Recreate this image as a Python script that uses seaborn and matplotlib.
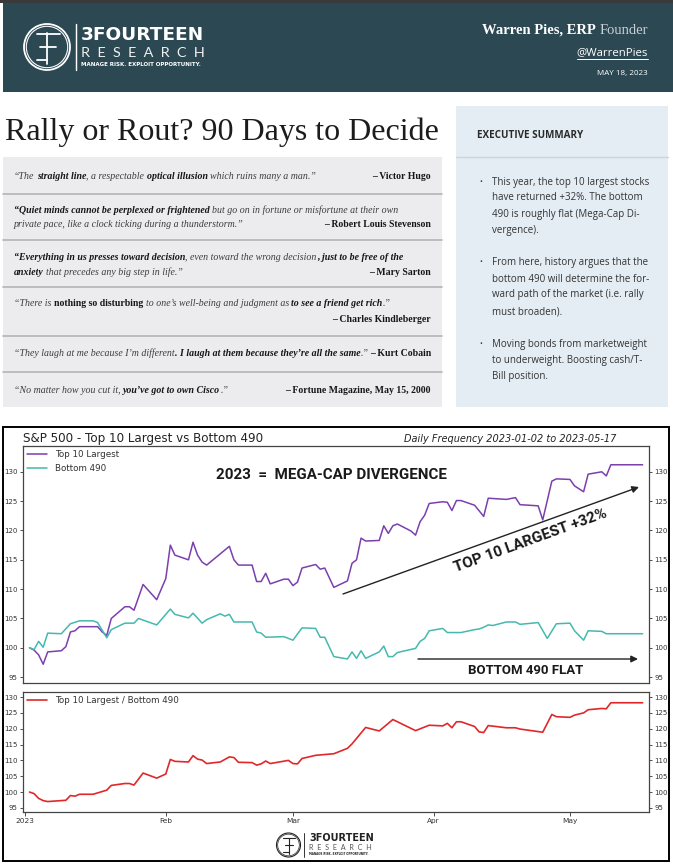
import pandas as pd
import matplotlib
matplotlib.use("Agg")
import matplotlib.pyplot as plt
from matplotlib.patches import Rectangle, Circle
from matplotlib.font_manager import FontProperties
import seaborn as sns

# ---------------- data ----------------
BASE_DATE = "2023-01-01"
TOP10_DAYS = [1, 2, 3, 4, 5, 8, 9, 10, 11, 12, 16, 17, 18, 19, 22, 23, 24, 26, 29, 31, 32, 33,
              36, 37, 38, 39, 40, 45, 46, 47, 50, 51, 52, 53, 54, 57, 58, 59, 60, 61, 64, 65,
              66, 68, 71, 72, 73, 74, 75, 78, 79, 80, 81, 82, 85, 86, 87, 88, 89, 92, 93, 94,
              95, 96, 99, 101, 102, 106, 108, 109, 113, 114, 116, 117, 120, 121, 123, 124, 127,
              128, 129, 136]
TOP10_VALS = [100, 99.6, 98.8, 97.2, 99.3, 99.5, 100.2, 102.7, 102.9, 103.6, 103.6, 102.7, 102.1,
              105, 107, 107, 106.4, 110.8, 108.2, 111.8, 117.5, 115.8, 115, 118, 115.8, 114.6,
              114.1, 117.3, 115, 114.1, 114.1, 111.3, 111.3, 112.7, 110.9, 111.7, 111.7, 110.6,
              111.2, 113.6, 114.2, 113.4, 113.6, 110.3, 111.4, 114.4, 115, 118.7, 118.2, 118.3,
              120.8, 119.5, 120.8, 121.1, 119.9, 119.2, 121.5, 122.6, 124.6, 124.9, 124.8, 123.4,
              125.1, 125.1, 124.3, 122.4, 125.5, 125.3, 125.6, 124.4, 124.2, 121.8, 128.4, 128.8,
              128.7, 127.6, 126.6, 129.6, 130, 129.3, 131.2, 131.2]
B490_DAYS = [1, 2, 3, 4, 5, 8, 10, 12, 15, 16, 18, 19, 22, 24, 25, 29, 32, 33, 36, 37, 39, 40,
             43, 44, 45, 46, 50, 51, 52, 53, 57, 59, 61, 64, 65, 66, 68, 71, 72, 73, 74, 75, 78,
             79, 80, 81, 82, 86, 87, 88, 89, 92, 93, 96, 99, 100, 101, 102, 103, 106, 108, 109,
             113, 115, 117, 120, 121, 123, 124, 127, 128, 136]
B490_VALS = [100, 99.7, 101.1, 100.1, 102.5, 102.4, 104.1, 104.6, 104.6, 104.3, 101.7, 103.1,
             104.2, 104.2, 105, 103.9, 106.6, 105.7, 105.1, 105.9, 104.2, 104.8, 105.8, 105.4,
             105.7, 104.4, 104.4, 102.7, 102.5, 101.8, 101.9, 101.3, 103.4, 103.3, 101.8, 101.8,
             98.5, 98.1, 99.3, 98.2, 99.5, 98.2, 99.3, 100.3, 98.5, 98.5, 99.2, 99.9, 101.1,
             101.6, 102.9, 103.3, 102.6, 102.6, 103.1, 103.2, 103.5, 103.9, 103.8, 104.4, 104.4,
             104, 104.3, 101.6, 104.1, 104.2, 102.9, 101.3, 102.9, 102.8, 102.4, 102.4]
RATIO_DAYS = [1, 2, 3, 4, 5, 9, 10, 11, 12, 15, 18, 19, 22, 23, 24, 26, 29, 31, 32, 33, 36, 37,
              38, 39, 40, 43, 45, 46, 47, 50, 51, 52, 53, 54, 58, 59, 60, 61, 64, 68, 71, 72, 75,
              78, 81, 86, 89, 92, 93, 94, 95, 96, 99, 100, 101, 102, 106, 108, 109, 114, 116,
              117, 120, 121, 123, 124, 127, 128, 129, 136]
RATIO_VALS = [100, 99.5, 98, 97.3, 97, 97.4, 98.9, 98.7, 99.3, 99.3, 100.6, 102.1, 102.7, 102.7,
              102.2, 106, 104.4, 105.7, 110.3, 109.7, 109.5, 111.5, 110.4, 110.1, 109, 109.5,
              111.1, 110.9, 109.4, 109.3, 108.5, 108.9, 109.8, 109, 110, 109, 108.9, 110.6,
              111.6, 112.1, 113.8, 115.2, 120.4, 119.3, 122.9, 119.4, 121.1, 120.9, 121.7, 120.3,
              122.2, 122.2, 120.7, 119, 118.8, 121, 120.3, 120.3, 119.9, 118.9, 124.5, 123.8,
              123.6, 124.3, 125, 126, 126.4, 126.3, 128.2, 128.2]
SERIES_LABELS = ["Top 10 Largest", "Bottom 490"]
RATIO_LABEL = "Top 10 Largest / Bottom 490"
MONTH_TICKS = ["2023-01-01", "2023-02-01", "2023-03-01", "2023-04-01", "2023-05-01"]
MONTH_LABELS = ["2023", "Feb", "Mar", "Apr", "May"]
Y_TICKS = [95, 100, 105, 110, 115, 120, 125, 130]

CHART_TITLE = "S&P 500 - Top 10 Largest vs Bottom 490"
CHART_SUB = "Daily Frequency 2023-01-02 to 2023-05-17"
PAGE_TITLE = "Rally or Rout? 90 Days to Decide"

QUOTES = [
    ([[("\u201cThe ", "i"), ("straight line", "bi"), (", a respectable ", "i"),
       ("optical illusion", "bi"), (" which ruins many a man.\u201d", "i")]],
     "\u2013 Victor Hugo"),
    ([[("\u201cQuiet minds cannot be perplexed or frightened", "bi"),
       (" but go on in fortune or misfortune at their own", "i")],
      [("private pace, like a clock ticking during a thunderstorm.\u201d", "i")]],
     "\u2013 Robert Louis Stevenson"),
    ([[("\u201cEverything in us presses toward decision", "bi"),
       (", even toward the wrong decision", "i"), (", just to be free of the", "bi")],
      [("anxiety", "bi"), (" that precedes any big step in life.\u201d", "i")]],
     "\u2013 Mary Sarton"),
    ([[("\u201cThere is ", "i"), ("nothing so disturbing", "b"),
       (" to one\u2019s well-being and judgment as ", "i"), ("to see a friend get rich", "bi"),
       (".\u201d", "i")]],
     "\u2013 Charles Kindleberger"),
    ([[("\u201cThey laugh at me because I\u2019m different", "i"),
       (". I laugh at them because they\u2019re all the same", "bi"), (".\u201d", "i")]],
     "\u2013 Kurt Cobain"),
    ([[("\u201cNo matter how you cut it, ", "i"), ("you\u2019ve got to own Cisco", "bi"),
       (".\u201d", "i")]],
     "\u2013 Fortune Magazine, May 15, 2000"),
]
QUOTE_BASELINES = [[179], [213, 227], [260, 275], [306], [356], [393]]
AUTHOR_BASELINES = [179, 227, 275, 322, 356, 393]

BULLETS = [
    ["This year, the top 10 largest stocks", "have returned +32%. The bottom",
     "490 is roughly flat (Mega-Cap Di-", "vergence)."],
    ["From here, history argues that the", "bottom 490 will determine the for-",
     "ward path of the market (i.e. rally", "must broaden)."],
    ["Moving bonds from marketweight", "to underweight. Boosting cash/T-", "Bill position."],
]
BULLET_Y = [[182, 198, 214, 230], [263, 279, 295, 312], [344, 360, 377]]

# ---------------- styling ----------------
sns.set_theme(style="ticks")
plt.rcParams["font.family"] = ["DejaVu Sans"]

PURPLE = "#7b3fae"
TEAL = "#45b9ae"
RED = "#e0282b"
HEADER = "#2b4853"

W, H = 673, 867
fig = plt.figure(figsize=(W / 100, H / 100), dpi=100)
renderer = fig.canvas.get_renderer()


def px_axes(z):
    a = fig.add_axes([0, 0, 1, 1], zorder=z)
    a.set_xlim(0, W)
    a.set_ylim(H, 0)
    a.axis("off")
    return a


deco = px_axes(-1)
ov = px_axes(10)

# header band
deco.add_patch(Rectangle((0, 0), W, 3, color="#3a3a3a", lw=0))
deco.add_patch(Rectangle((3, 3), W - 3, 89, color=HEADER, lw=0))


def logo(ax, cx, cy, r, col, sub_col, lw, text_x, sizes, ys):
    ax.add_patch(Circle((cx, cy), r, fill=False, ec=col, lw=lw))
    ax.add_patch(Circle((cx, cy), r * 0.9, fill=False, ec=col, lw=lw * 0.6))
    ax.plot([cx, cx], [cy - 0.62 * r, cy + 0.75 * r], color=col, lw=lw)
    ax.plot([cx - 0.45 * r, cx + 0.55 * r], [cy - 0.55 * r, cy - 0.55 * r], color=col, lw=lw)
    ax.plot([cx - 0.3 * r, cx + 0.4 * r], [cy, cy], color=col, lw=lw)
    ax.plot([cx - 0.45 * r, cx], [cy + 0.55 * r, cy + 0.55 * r], color=col, lw=lw)
    ax.plot([text_x - 5, text_x - 5], [cy - r, cy + r], color=col, lw=lw * 0.8)
    ax.text(text_x, ys[0], "3FOURTEEN", color=col, fontsize=sizes[0], fontweight="bold",
            va="center", ha="left", family="DejaVu Sans")
    ax.text(text_x, ys[1], "R  E  S  E  A  R  C  H", color=sub_col, fontsize=sizes[1],
            va="center", ha="left", family="Lato")
    ax.text(text_x, ys[2], "MANAGE RISK. EXPLOIT OPPORTUNITY.", color=col, fontsize=sizes[2],
            va="center", ha="left", fontweight="bold", family="DejaVu Sans")


logo(deco, 47, 47, 23, "white", "#f0f0f0", 1.3, 81, (13.3, 10.4, 3.95), (35, 53, 64))

# header right
t_f = deco.text(648, 34, "Founder", color="#c9d1d5", fontsize=10.5, ha="right", va="baseline",
                family="Liberation Serif")
deco.annotate("Warren Pies, ERP", xy=(0, 0), xycoords=t_f, xytext=(-2.6, 0),
              textcoords="offset points", ha="right", va="bottom", color="white",
              fontsize=10.5, fontweight="bold", family="Liberation Serif")
t_h = deco.text(648, 53, "@WarrenPies", color="white", fontsize=8.2, ha="right", va="center",
                family="Open Sans")
bb = t_h.get_window_extent(renderer)
deco.plot([bb.x0, bb.x1], [59, 59], color="white", lw=0.7)
deco.text(648, 73, "MAY 18, 2023", color="white", fontsize=5.8, ha="right", va="center",
          family="Open Sans")

# page title
deco.text(5, 140, PAGE_TITLE, fontsize=23, family="Liberation Serif", color="#1c1c1c",
          va="baseline", ha="left")

# quotes box
deco.add_patch(Rectangle((3, 157), 439, 250, color="#ececee", lw=0))
for y in [194, 240, 287, 336, 372]:
    deco.plot([3, 442], [y, y], color="#b4b4b7", lw=1.2)

QSIZE = 7.15


def advance(s, fp):
    """Advance width of s in pixels, independent of glyph ink bearings."""
    w1 = renderer.get_text_width_height_descent("|" + s + "|", fp, ismath=False)[0]
    w0 = renderer.get_text_width_height_descent("||", fp, ismath=False)[0]
    return w1 - w0


def rich_line(ax, x, y, segs, size):
    cur = x
    for txt, st in segs:
        style = "italic" if "i" in st else "normal"
        weight = "bold" if "b" in st else "normal"
        fp = FontProperties(family="Liberation Serif", style=style, weight=weight, size=size)
        body = txt.strip(" ")
        n_lead = len(txt) - len(txt.lstrip(" "))
        n_trail = len(txt) - len(txt.rstrip(" "))
        sp = advance(" ", fp)
        cur += n_lead * sp
        ax.text(cur, y, body, va="baseline", ha="left", fontproperties=fp,
                color="#161616" if "b" in st else "#3d3d3d")
        cur += advance(body, fp) + n_trail * sp


for (lines, author), ys, ay in zip(QUOTES, QUOTE_BASELINES, AUTHOR_BASELINES):
    for segs, y in zip(lines, ys):
        rich_line(deco, 14, y, segs, QSIZE)
    deco.text(431, ay, author, fontsize=7, fontweight="bold",
              family="Liberation Serif", color="#161616", ha="right", va="baseline")

# executive summary box
deco.add_patch(Rectangle((456, 106), 212, 301, color="#e4edf4", lw=0))
deco.plot([456, 668], [157, 157], color="#cbd5dd", lw=1.0)
deco.text(477, 135, "EXECUTIVE SUMMARY", fontsize=7.1, fontweight="bold", family="Open Sans",
          color="#2a2a2a", va="center", ha="left")

BSIZE = 7.0
for para, ys in zip(BULLETS, BULLET_Y):
    deco.text(479, ys[0], "\u2022", fontsize=5.5, family="Open Sans", color="#333333",
              va="center", ha="left")
    for line, y in zip(para, ys):
        deco.text(492, y, line, fontsize=BSIZE, family="Open Sans", color="#333333",
                  va="center", ha="left")

# chart frame and titles
deco.add_patch(Rectangle((3, 427), 666, 434, fill=False, ec="black", lw=1.4))
deco.text(23, 442, CHART_TITLE, fontsize=8.6, va="baseline", ha="left", color="#222222")
deco.text(616, 442, CHART_SUB, fontsize=7, style="italic", va="baseline", ha="right",
          color="#222222")

# ---------------- charts ----------------
def to_dates(days):
    return pd.Timestamp(BASE_DATE) + pd.to_timedelta(days, unit="D")


top_df = pd.concat([
    pd.DataFrame({"date": to_dates(TOP10_DAYS), "value": TOP10_VALS, "series": SERIES_LABELS[0]}),
    pd.DataFrame({"date": to_dates(B490_DAYS), "value": B490_VALS, "series": SERIES_LABELS[1]}),
], ignore_index=True)
ratio_df = pd.DataFrame({"date": to_dates(RATIO_DAYS), "value": RATIO_VALS, "series": RATIO_LABEL})

ax1 = fig.add_axes([23 / W, 1 - 683 / H, 626 / W, 237 / H])
ax2 = fig.add_axes([23 / W, 1 - 812 / H, 626 / W, 120 / H])

sns.lineplot(data=top_df, x="date", y="value", hue="series", palette=[PURPLE, TEAL],
             linewidth=1.1, ax=ax1)
sns.lineplot(data=ratio_df, x="date", y="value", hue="series", palette=[RED],
             linewidth=1.2, ax=ax2)

xmin = top_df["date"].min() - pd.Timedelta(days=1.44)
xmax = top_df["date"].max() + pd.Timedelta(days=1.4)
for ax, ylim in [(ax1, (94.0, 134.4)), (ax2, (93.7, 131.6))]:
    ax.set_xlim(xmin, xmax)
    ax.set_ylim(*ylim)
    ax.set_yticks(Y_TICKS)
    ax.set_xlabel("")
    ax.set_ylabel("")
    ax.tick_params(axis="y", which="both", left=True, right=True, labelleft=True,
                   labelright=True, labelsize=5, length=2.5, width=0.6, pad=1.5,
                   colors="#333333")
    for sp in ax.spines.values():
        sp.set_visible(True)
        sp.set_color("#444444")
        sp.set_linewidth(0.9)
    h, l = ax.get_legend_handles_labels()
    ax.legend(h, l, loc="upper left", frameon=False, fontsize=6.3, handlelength=2.3,
              handletextpad=0.9, borderaxespad=0.25, borderpad=0.2, labelspacing=0.55,
              labelcolor="#333333")

ax1.tick_params(axis="x", bottom=False, labelbottom=False)
ax2.set_xticks(pd.to_datetime(MONTH_TICKS))
ax2.set_xticklabels(MONTH_LABELS)
ax2.tick_params(axis="x", labelsize=5.3, length=3, width=0.6, pad=1.5, colors="#333333")

# ---------------- annotations ----------------
ANN = dict(family="Roboto", fontweight="bold", color="#1a1a1a")
ov.text(331, 475, "2023  =  MEGA-CAP DIVERGENCE", fontsize=10.9, ha="center", va="center", **ANN)
ov.annotate("", xy=(639, 487), xytext=(343, 594),
            arrowprops=dict(arrowstyle="-|>", color="#222222", lw=1.0, mutation_scale=10,
                            shrinkA=0, shrinkB=0))
ov.text(531, 541, "TOP 10 LARGEST +32%", fontsize=11, rotation=20, ha="center", va="center",
        rotation_mode="anchor", **ANN)
ov.annotate("", xy=(638, 659), xytext=(418, 659),
            arrowprops=dict(arrowstyle="-|>", color="#222222", lw=1.0, mutation_scale=10,
                            shrinkA=0, shrinkB=0))
ov.text(526, 670, "BOTTOM 490 FLAT", fontsize=9.5, ha="center", va="center", **ANN)

# footer logo
logo(deco, 288.5, 845, 12, "#222222", "#555555", 0.8, 309, (7.0, 5.2, 2.0), (838, 848, 854))

fig.savefig("out.png", dpi=100)
